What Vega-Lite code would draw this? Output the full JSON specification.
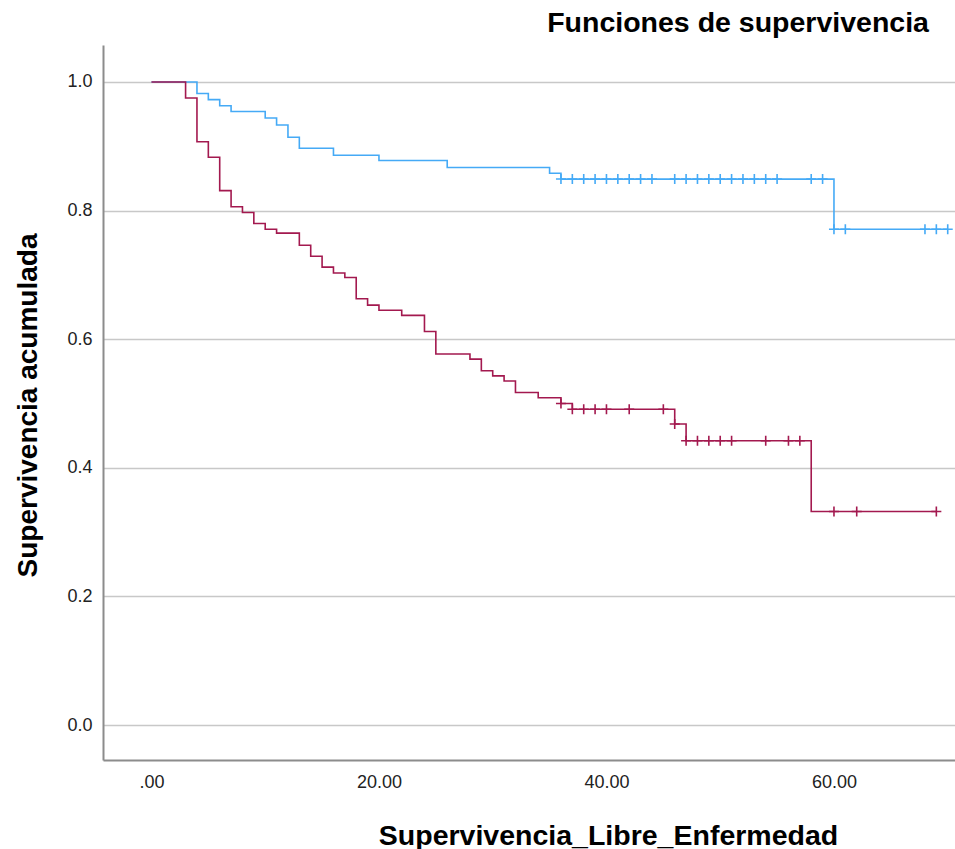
{
  "$schema": "https://vega.github.io/schema/vega-lite/v6.json",
  "width": 852,
  "height": 715,
  "autosize": "none",
  "padding": {"left": 103, "top": 45, "right": 0, "bottom": 89},
  "background": "white",
  "config": {"view": {"stroke": null}, "font": "Liberation Sans"},
  "title": {"text": "Funciones de supervivencia", "anchor": "end", "dx": -27, "fontSize": 28.5, "fontWeight": "bold", "font": "Liberation Sans", "color": "#000000", "offset": 8},
  "data": {"values": [
    {"g": "A", "t": 0, "s": 1.0, "c": 0},
    {"g": "A", "t": 4, "s": 0.982, "c": 0},
    {"g": "A", "t": 5, "s": 0.9725, "c": 0},
    {"g": "A", "t": 6, "s": 0.963, "c": 0},
    {"g": "A", "t": 7, "s": 0.954, "c": 0},
    {"g": "A", "t": 10, "s": 0.944, "c": 0},
    {"g": "A", "t": 11, "s": 0.933, "c": 0},
    {"g": "A", "t": 12, "s": 0.914, "c": 0},
    {"g": "A", "t": 13, "s": 0.897, "c": 0},
    {"g": "A", "t": 16, "s": 0.886, "c": 0},
    {"g": "A", "t": 20, "s": 0.878, "c": 0},
    {"g": "A", "t": 26, "s": 0.867, "c": 0},
    {"g": "A", "t": 35, "s": 0.858, "c": 0},
    {"g": "A", "t": 36, "s": 0.849, "c": 0},
    {"g": "A", "t": 36, "s": 0.849, "c": 1},
    {"g": "A", "t": 37, "s": 0.849, "c": 1},
    {"g": "A", "t": 38, "s": 0.849, "c": 1},
    {"g": "A", "t": 39, "s": 0.849, "c": 1},
    {"g": "A", "t": 40, "s": 0.849, "c": 1},
    {"g": "A", "t": 41, "s": 0.849, "c": 1},
    {"g": "A", "t": 42, "s": 0.849, "c": 1},
    {"g": "A", "t": 43, "s": 0.849, "c": 1},
    {"g": "A", "t": 44, "s": 0.849, "c": 1},
    {"g": "A", "t": 46, "s": 0.849, "c": 1},
    {"g": "A", "t": 47, "s": 0.849, "c": 1},
    {"g": "A", "t": 48, "s": 0.849, "c": 1},
    {"g": "A", "t": 49, "s": 0.849, "c": 1},
    {"g": "A", "t": 50, "s": 0.849, "c": 1},
    {"g": "A", "t": 51, "s": 0.849, "c": 1},
    {"g": "A", "t": 52, "s": 0.849, "c": 1},
    {"g": "A", "t": 53, "s": 0.849, "c": 1},
    {"g": "A", "t": 54, "s": 0.849, "c": 1},
    {"g": "A", "t": 55, "s": 0.849, "c": 1},
    {"g": "A", "t": 58, "s": 0.849, "c": 1},
    {"g": "A", "t": 59, "s": 0.849, "c": 1},
    {"g": "A", "t": 60, "s": 0.771, "c": 0},
    {"g": "A", "t": 60, "s": 0.771, "c": 1},
    {"g": "A", "t": 61, "s": 0.771, "c": 1},
    {"g": "A", "t": 68, "s": 0.771, "c": 1},
    {"g": "A", "t": 69, "s": 0.771, "c": 1},
    {"g": "A", "t": 70, "s": 0.771, "c": 1},
    {"g": "B", "t": 0, "s": 1.0, "c": 0},
    {"g": "B", "t": 3, "s": 0.975, "c": 0},
    {"g": "B", "t": 4, "s": 0.907, "c": 0},
    {"g": "B", "t": 5, "s": 0.883, "c": 0},
    {"g": "B", "t": 6, "s": 0.831, "c": 0},
    {"g": "B", "t": 7, "s": 0.806, "c": 0},
    {"g": "B", "t": 8, "s": 0.797, "c": 0},
    {"g": "B", "t": 9, "s": 0.780, "c": 0},
    {"g": "B", "t": 10, "s": 0.771, "c": 0},
    {"g": "B", "t": 11, "s": 0.765, "c": 0},
    {"g": "B", "t": 13, "s": 0.746, "c": 0},
    {"g": "B", "t": 14, "s": 0.729, "c": 0},
    {"g": "B", "t": 15, "s": 0.712, "c": 0},
    {"g": "B", "t": 16, "s": 0.703, "c": 0},
    {"g": "B", "t": 17, "s": 0.696, "c": 0},
    {"g": "B", "t": 18, "s": 0.663, "c": 0},
    {"g": "B", "t": 19, "s": 0.653, "c": 0},
    {"g": "B", "t": 20, "s": 0.645, "c": 0},
    {"g": "B", "t": 22, "s": 0.637, "c": 0},
    {"g": "B", "t": 24, "s": 0.612, "c": 0},
    {"g": "B", "t": 25, "s": 0.577, "c": 0},
    {"g": "B", "t": 28, "s": 0.569, "c": 0},
    {"g": "B", "t": 29, "s": 0.551, "c": 0},
    {"g": "B", "t": 30, "s": 0.543, "c": 0},
    {"g": "B", "t": 31, "s": 0.535, "c": 0},
    {"g": "B", "t": 32, "s": 0.517, "c": 0},
    {"g": "B", "t": 34, "s": 0.509, "c": 0},
    {"g": "B", "t": 36, "s": 0.500, "c": 0},
    {"g": "B", "t": 36, "s": 0.500, "c": 1},
    {"g": "B", "t": 37, "s": 0.491, "c": 0},
    {"g": "B", "t": 37, "s": 0.491, "c": 1},
    {"g": "B", "t": 38, "s": 0.491, "c": 1},
    {"g": "B", "t": 39, "s": 0.491, "c": 1},
    {"g": "B", "t": 40, "s": 0.491, "c": 1},
    {"g": "B", "t": 42, "s": 0.491, "c": 1},
    {"g": "B", "t": 45, "s": 0.491, "c": 1},
    {"g": "B", "t": 46, "s": 0.468, "c": 0},
    {"g": "B", "t": 46, "s": 0.468, "c": 1},
    {"g": "B", "t": 47, "s": 0.442, "c": 0},
    {"g": "B", "t": 47, "s": 0.442, "c": 1},
    {"g": "B", "t": 48, "s": 0.442, "c": 1},
    {"g": "B", "t": 49, "s": 0.442, "c": 1},
    {"g": "B", "t": 50, "s": 0.442, "c": 1},
    {"g": "B", "t": 51, "s": 0.442, "c": 1},
    {"g": "B", "t": 54, "s": 0.442, "c": 1},
    {"g": "B", "t": 56, "s": 0.442, "c": 1},
    {"g": "B", "t": 57, "s": 0.442, "c": 1},
    {"g": "B", "t": 58, "s": 0.332, "c": 0},
    {"g": "B", "t": 60, "s": 0.332, "c": 1},
    {"g": "B", "t": 62, "s": 0.332, "c": 1},
    {"g": "B", "t": 69, "s": 0.332, "c": 1}
  ]},
  "encoding": {
    "x": {
      "field": "t", "type": "quantitative",
      "scale": {"domain": [-4.26, 70.64], "nice": false, "zero": false},
      "axis": {
        "title": "Supervivencia_Libre_Enfermedad",
        "values": [0, 20, 40, 60],
        "labelExpr": "datum.value == 0 ? '.00' : format(datum.value, '.2f')",
        "grid": false, "ticks": false,
        "domainColor": "#8c8c8c", "domainWidth": 2,
        "labelFont": "Liberation Sans", "labelFontSize": 18, "labelColor": "#222222", "labelPadding": 13,
        "titleFont": "Liberation Sans", "titleFontSize": 28.5, "titleFontWeight": "bold", "titleColor": "#000000",
        "titleX": 505, "titleY": 75, "titleBaseline": "middle", "titleAlign": "center"
      }
    },
    "y": {
      "field": "s", "type": "quantitative",
      "scale": {"domain": [-0.0544, 1.0575], "nice": false, "zero": false},
      "axis": {
        "title": "Supervivencia acumulada",
        "values": [0, 0.2, 0.4, 0.6, 0.8, 1.0],
        "format": ".1f",
        "grid": true, "gridColor": "#c8c8c8", "gridWidth": 1.5,
        "ticks": false,
        "domainColor": "#8c8c8c", "domainWidth": 2,
        "labelFont": "Liberation Sans", "labelFontSize": 18, "labelColor": "#222222", "labelPadding": 11,
        "titleFont": "Liberation Sans", "titleFontSize": 28, "titleFontWeight": "bold", "titleColor": "#000000",
        "titleX": -75, "titleY": 360, "titleBaseline": "middle", "titleAlign": "center", "titleAngle": 270
      }
    },
    "color": {"field": "g", "type": "nominal", "scale": {"domain": ["A", "B"], "range": ["#45aaf6", "#a3194f"]}, "legend": null}
  },
  "layer": [
    {"mark": {"type": "line", "interpolate": "step-after", "strokeWidth": 1.6}},
    {"transform": [{"filter": "datum.c == 1"}], "mark": {"type": "point", "shape": "M-1,0H1M0,-1V1", "size": 100, "filled": false, "strokeWidth": 1.6, "opacity": 1}}
  ]
}
